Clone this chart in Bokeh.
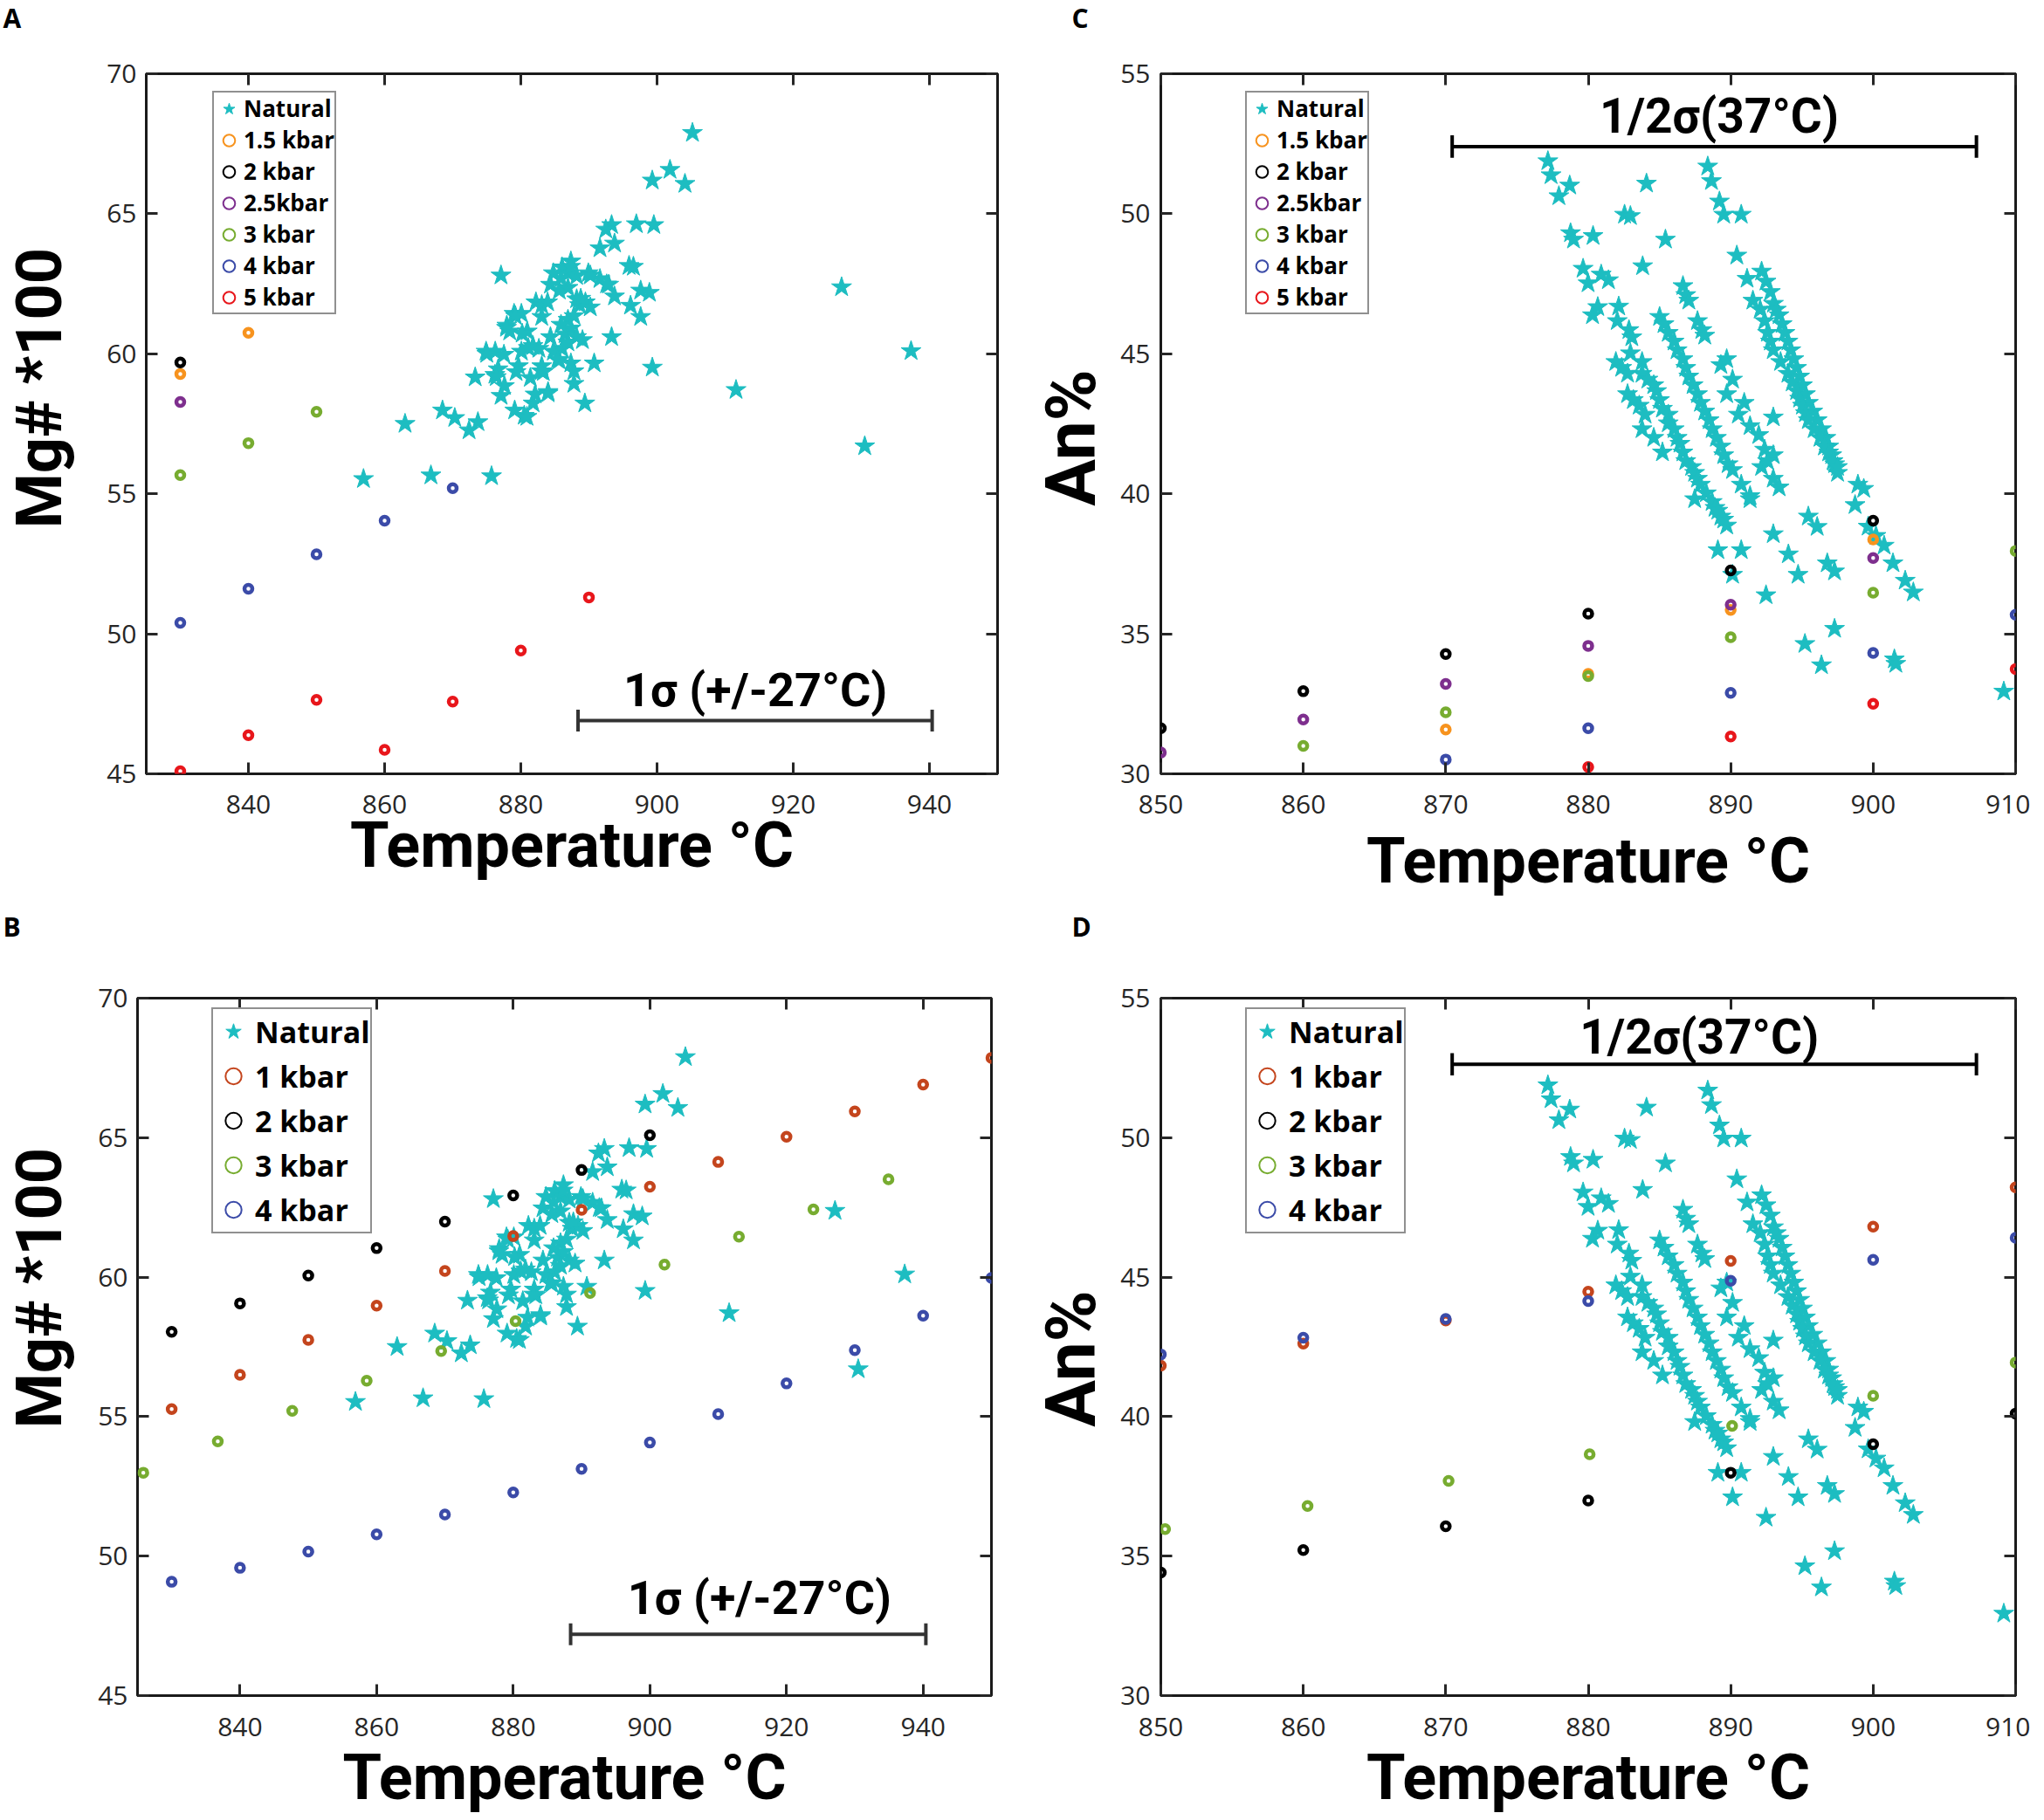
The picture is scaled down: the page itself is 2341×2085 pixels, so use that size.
import math
from bokeh.plotting import figure
from bokeh.models import Range1d, FixedTicker, LinearAxis, Legend, LegendItem, Label, Spacer
from bokeh.layouts import column, row
from bokeh.embed import file_html
from bokeh.resources import INLINE
from bokeh.core.properties import value

# ---------------- data: Mg# panels (A, B) ----------------
nat_mg_T = [856.9, 863.0, 866.8, 875.7, 868.5, 870.3, 872.4, 873.7, 889.4, 887.8, 884.0, 881.8, 880.5, 880.9,
            879.1, 877.1, 877.6, 873.3, 874.9, 876.2, 881.4, 883.3, 879.3,
            877.09, 893.33, 892.47, 896.96, 899.53, 891.62, 893.76, 895.89, 896.53, 897.60, 898.88, 896.11,
            897.60, 893.33, 899.31, 890.77, 887.35, 886.06, 886.92, 884.78, 888.20, 889.91, 884.35, 885.64,
            886.92, 891.62, 892.90, 893.76, 882.22, 883.07, 883.93, 888.63, 889.48, 888.20, 883.07, 879.01,
            880.08, 877.94, 878.37, 880.94, 886.92, 887.35, 886.49, 888.20, 889.05, 884.35, 881.79, 882.65,
            884.78, 886.06, 885.64, 887.35, 880.08, 876.24, 877.52, 879.65, 883.07, 876.66,
            877.9, 880.2, 879.2, 886.9, 885.4, 887.8, 883.0, 881.1, 885.9, 887.8, 888.8, 885.9, 887.3, 890.2,
            892.6, 890.2, 876.4, 875.0, 882.1, 884.0,
            905.2, 901.9, 899.3, 904.1, 911.6, 927.1, 937.3, 930.5]
nat_mg = [55.53, 57.50, 55.66, 55.63, 57.98, 57.71, 57.27, 57.56, 58.23, 58.93, 58.64, 58.23, 57.79, 57.75,
          57.98, 58.50, 58.85, 59.16, 60.08, 59.25, 59.14, 59.35, 59.35,
          62.80, 64.60, 64.44, 64.63, 64.60, 63.77, 63.94, 63.14, 63.11, 62.26, 62.18, 61.72,
          61.32, 60.60, 59.51, 59.66, 63.30, 63.09, 62.88, 62.88, 62.78, 62.88, 62.47, 62.26,
          62.36, 62.67, 62.47, 62.05, 61.84, 61.74, 61.84, 61.74, 61.84, 61.95, 61.32, 61.43,
          61.43, 61.01, 60.80, 60.80, 61.22, 60.91, 60.70, 60.60, 60.49, 60.60, 60.28, 60.18,
          60.08, 60.18, 59.77, 59.66, 60.08, 60.08, 59.97, 59.56, 59.56, 59.45,
          60.93, 60.72, 61.35, 60.41, 59.79, 59.38, 59.38, 60.21, 61.04, 61.35, 61.97, 62.69, 63.11, 62.80,
          62.48, 61.66, 59.17, 60.00, 58.55, 58.59,
          67.89, 66.57, 66.19, 66.07, 58.71, 62.38, 60.10, 56.70]

# panel A experiments
a15_T = [830, 840]
a15 = [59.28, 60.75]
a2_T = [830]
a2 = [59.69]
a25_T = [830]
a25 = [58.28]
a3_T = [830, 840, 850]
a3 = [55.67, 56.81, 57.93]
a4_T = [830, 840, 850, 860, 870]
a4 = [50.39, 51.61, 52.84, 54.04, 55.20]
a5_T = [830, 840, 850, 860, 870, 880, 890]
a5 = [45.09, 46.38, 47.64, 45.86, 47.58, 49.40, 51.30]

# panel B experiments
b1_T = [830, 840, 850, 860, 870, 880, 890, 900, 910, 920, 930, 940, 950]
b1 = [55.27, 56.50, 57.75, 58.98, 60.22, 61.47, 62.41, 63.24, 64.13, 65.03, 65.94, 66.90, 67.86]
b2_T = [830, 840, 850, 860, 870, 880, 890, 900]
b2 = [58.04, 59.06, 60.06, 61.04, 61.99, 62.93, 63.84, 65.09]
b3_T = [825.85, 836.75, 847.65, 858.55, 869.45, 880.34, 891.24, 902.14, 913.04, 923.94, 934.93]
b3 = [52.99, 54.11, 55.21, 56.29, 57.35, 58.42, 59.43, 60.45, 61.45, 62.43, 63.51]
b4_T = [830, 840, 850, 860, 870, 880, 890, 900, 910, 920, 930, 940, 950]
b4 = [49.08, 49.58, 50.16, 50.78, 51.49, 52.28, 53.13, 54.07, 55.09, 56.19, 57.38, 58.62, 59.97]

# ---------------- data: An% panels (C, D) ----------------
nat_an_T = [877.17, 877.39, 878.70, 877.94, 884.09, 882.55, 882.96, 888.39, 888.65, 889.21, 889.51, 890.74,
            878.76, 878.97, 880.34, 885.42, 883.82, 890.43, 879.64, 879.99, 880.91, 881.42, 880.30, 880.67,
            882.14, 882.04, 882.86, 883.06, 882.96, 883.78,
            881.94, 882.35, 882.76, 883.78, 884.19, 884.60, 884.80, 882.76, 883.17, 883.58, 885.01, 885.21,
            885.62, 883.99, 883.78, 885.62, 886.03, 884.60, 886.24, 886.44, 885.21, 886.65, 886.85, 887.26,
            887.47, 887.67, 887.88, 887.47, 888.29, 888.70, 888.90, 889.31, 889.72, 889.51, 889.10,
            885.01, 885.32, 885.62, 886.03, 886.24, 886.65, 886.85, 887.06, 887.36, 887.67, 887.88, 888.18,
            888.49, 888.70, 889.00, 889.31, 889.51, 889.82, 890.13, 890.74, 891.36,
            886.65, 886.85, 887.06, 887.67, 887.98, 888.18,
            889.31, 889.72, 890.13, 889.72, 890.95, 890.54, 891.36, 891.97, 892.99, 892.38, 892.99, 892.17,
            892.58, 892.99, 893.40, 891.36,
            892.17, 891.15, 892.48, 892.79, 893.00, 893.20, 893.40, 893.61, 893.81, 894.02, 894.22, 894.43,
            894.63, 894.84, 895.04, 895.25, 895.45, 895.76, 896.07, 896.37, 896.68, 896.88, 897.09, 897.30,
            897.50,
            891.56, 892.07, 892.38, 892.58, 892.79, 892.99, 893.50, 894.02, 894.32, 894.63, 894.84, 895.04,
            895.25, 895.45, 895.86, 896.27, 896.58, 896.88, 897.19, 897.50,
            895.45, 896.07, 892.99, 898.73, 898.93, 899.34, 899.65, 900.20, 900.77, 901.39, 902.25, 902.82,
            894.05, 894.73, 896.78, 897.29, 892.48, 897.29, 895.21, 896.37, 901.49, 901.59, 909.17,
            889.10, 890.74, 890.13]
nat_an = [51.88, 51.38, 51.01, 50.63, 51.08, 49.97, 49.92, 51.69, 51.17, 50.44, 49.97, 49.97,
          49.31, 49.08, 49.21, 49.08, 48.13, 48.51, 48.04, 47.52, 47.83, 47.63, 46.38, 46.67,
          46.69, 46.17, 45.85, 45.59, 45.02, 44.71,
          44.71, 44.50, 44.29, 44.29, 44.08, 43.88, 43.67, 43.56, 43.35, 43.15, 43.35, 43.04,
          42.83, 42.83, 42.31, 42.52, 42.31, 42.00, 42.00, 41.79, 41.48, 41.48, 41.17, 40.96,
          40.75, 40.54, 40.33, 39.81, 40.02, 39.71, 39.50, 39.19, 38.87, 39.08, 39.40,
          46.32, 46.06, 45.75, 45.44, 45.13, 44.81, 44.50, 44.19, 43.88, 43.56, 43.25, 42.94,
          42.63, 42.31, 42.00, 41.69, 41.38, 41.06, 40.85, 40.33, 39.92,
          47.42, 47.10, 46.90, 46.17, 45.85, 45.65,
          44.60, 44.81, 44.08, 43.56, 43.25, 42.83, 42.42, 42.10, 42.73, 41.58, 41.38, 40.96,
          41.17, 40.54, 40.23, 39.81,
          47.94, 47.68, 47.58, 47.21, 46.79, 46.58, 46.38, 46.06, 45.75, 45.44, 45.13, 44.81,
          44.50, 44.19, 43.88, 43.56, 43.25, 42.94, 42.63, 42.31, 42.00, 41.69, 41.38, 41.06,
          40.75,
          46.90, 46.58, 46.17, 45.75, 45.44, 45.13, 44.71, 44.29, 43.98, 43.67, 43.40, 43.15,
          42.88, 42.63, 42.31, 42.00, 41.69, 41.48, 41.17, 40.96,
          39.19, 38.82, 38.56, 39.60, 40.33, 40.18, 38.83, 38.50, 38.15, 37.52, 36.90, 36.48,
          37.84, 37.11, 37.52, 37.23, 36.38, 35.18, 34.64, 33.88, 34.09, 33.93, 32.94,
          37.99, 37.99, 37.11]

# panel C experiments
c15_T = [870, 880, 890, 900]
c15 = [31.58, 33.57, 35.85, 38.37]
c2_T = [850, 860, 870, 880, 890, 900]
c2 = [31.63, 32.95, 34.28, 35.72, 37.26, 39.04]
c25_T = [850, 860, 870, 880, 890, 900]
c25 = [30.76, 31.94, 33.21, 34.57, 36.04, 37.71]
c3_T = [860, 870, 880, 890, 900, 910]
c3 = [31.00, 32.20, 33.49, 34.88, 36.47, 37.96]
c4_T = [870, 880, 890, 900, 910]
c4 = [30.51, 31.63, 32.89, 34.32, 35.68]
c5_T = [880, 890, 900, 910]
c5 = [30.24, 31.33, 32.50, 33.74]

# panel D experiments
d1_T = [850, 860, 870, 880, 890, 900, 910]
d1 = [41.83, 42.62, 43.45, 44.48, 45.58, 46.81, 48.22]
d2_T = [850, 860, 870, 880, 890, 900, 910]
d2 = [34.41, 35.22, 36.07, 36.99, 37.99, 39.01, 40.11]
d3_T = [850.3, 860.3, 870.2, 880.1, 890.1, 900, 910]
d3 = [35.97, 36.80, 37.70, 38.65, 39.67, 40.75, 41.94]
d4_T = [850, 860, 870, 880, 890, 900, 910]
d4 = [42.23, 42.83, 43.50, 44.14, 44.87, 45.62, 46.41]

# sigma bars (annotations)
sig_mg_bar = [888.4, 940.4]
sig_an_bar = [870.45, 907.25]

# ticks
mg_xticks = [840, 860, 880, 900, 920, 940]
mg_yticks = [45, 50, 55, 60, 65, 70]
an_xticks = [850, 860, 870, 880, 890, 900, 910]
an_yticks = [30, 35, 40, 45, 50, 55]

TEAL = "#1dbdc1"
C_15 = "#f7931e"
C_2 = "#000000"
C_25 = "#7e2f8e"
C_3 = "#77ac30"
C_4 = "#3b4ba8"
C_5 = "#e8161b"
C_1 = "#c4451d"
AX = "#262626"
NAN = float("nan")


def strip(w, h):
    """An empty, axis-less canvas whose data units are pixels (used for titles outside the plots)."""
    s = figure(width=w, height=h, x_range=Range1d(0, w), y_range=Range1d(0, h), x_axis_type=None,
               y_axis_type=None, output_backend="svg", toolbar_location=None, title_location=None,
               min_border_left=0, min_border_right=0, min_border_top=0, min_border_bottom=0)
    s.outline_line_color = None
    s.background_fill_color = "white"
    s.border_fill_color = "white"
    s.grid.visible = False
    return s


def letter(s, txt, x, y):
    s.add_layout(Label(x=x, y=y, text=txt, text_font="Open Sans", text_font_style="bold",
                       text_font_size="30px", text_align="left", text_baseline="alphabetic",
                       text_color="black"))


def ytitle(s, txt, x, y, size):
    s.add_layout(Label(x=x, y=y, text=txt, angle=math.pi / 2, text_font="Roboto", text_font_style="bold",
                       text_font_size=size, text_align="center", text_baseline="middle",
                       text_color="black"))


class Panel:
    def __init__(self, xr, yr, xt, yt, w, h, ml, mr, mt, mb, tick_sx, tick_sy, xl_standoff):
        p = figure(width=w, height=h, x_range=Range1d(*xr), y_range=Range1d(*yr),
                   output_backend="svg", toolbar_location=None,
                   min_border_left=ml, min_border_right=mr, min_border_top=mt, min_border_bottom=mb)
        self.fh = h - mt - mb
        p.xgrid.visible = False
        p.ygrid.visible = False
        p.outline_line_color = "#1a1a1a"
        p.outline_line_width = 3
        p.background_fill_color = "white"
        p.border_fill_color = "white"
        p.xaxis.ticker = FixedTicker(ticks=xt)
        p.yaxis.ticker = FixedTicker(ticks=yt)
        for ax in (p.xaxis[0], p.yaxis[0]):
            ax.axis_line_color = None
            ax.major_tick_in = 13
            ax.major_tick_out = 0
            ax.major_tick_line_width = 3
            ax.major_tick_line_color = AX
            ax.minor_tick_line_color = None
            ax.major_label_text_font = "Open Sans"
            ax.major_label_text_font_size = "30px"
            ax.major_label_text_color = AX
        p.xaxis.major_label_standoff = tick_sx
        p.yaxis.major_label_standoff = tick_sy
        p.xaxis.axis_label = "Temperature °C"
        p.xaxis.axis_label_text_font = "Roboto"
        p.xaxis.axis_label_text_font_style = "bold"
        p.xaxis.axis_label_text_font_size = "72px"
        p.xaxis.axis_label_text_color = "black"
        p.xaxis.axis_label_standoff = xl_standoff
        for side, tk in (("right", yt), ("above", xt)):
            ax = LinearAxis(ticker=FixedTicker(ticks=tk), major_label_text_font_size="2px",
                            major_label_text_color=None,
                            major_tick_in=13, major_tick_out=0, major_tick_line_width=3,
                            major_tick_line_color=AX, minor_tick_line_color=None, axis_line_color=None,
                            major_label_standoff=0)
            p.add_layout(ax, side)
        self.p = p

    def natural(self, xs, ys):
        return self.p.scatter(xs, ys, marker="star", size=24, fill_color=TEAL, line_color=TEAL, line_width=1)

    def exp(self, xs, ys, color):
        return self.p.scatter(xs, ys, marker="circle", size=9, fill_alpha=0, line_color=color, line_width=4.5)

    def legend(self, entries, dx, top_off, font_size, gw, gh, standoff):
        items = []
        for label, color, is_star in entries:
            if is_star:
                r = self.p.scatter([NAN], [NAN], marker="star", size=10, fill_color=TEAL, line_color=TEAL)
            else:
                r = self.p.scatter([NAN], [NAN], marker="circle", size=10, fill_alpha=0, line_color=color,
                                   line_width=2)
            items.append(LegendItem(label=label, renderers=[r]))
        lh = gh * len(entries)
        lg = Legend(items=items, location=(dx, self.fh - top_off - lh))
        lg.label_text_font = "Open Sans"
        lg.label_text_font_style = "bold"
        lg.label_text_font_size = font_size
        lg.label_text_color = "black"
        lg.border_line_color = "#222222"
        lg.border_line_width = 2
        lg.background_fill_color = "white"
        lg.background_fill_alpha = 1
        lg.padding = 0
        lg.margin = 0
        lg.spacing = 0
        lg.glyph_width = gw
        lg.glyph_height = gh
        lg.label_height = gh
        lg.label_standoff = standoff
        self.p.add_layout(lg)

    def sigma(self, bar, by, cap, text, tx, ty, color, fsize):
        p = self.p
        p.segment(x0=[bar[0]], y0=[by], x1=[bar[1]], y1=[by], line_color=color, line_width=4)
        p.segment(x0=bar, y0=[by - cap, by - cap], x1=bar, y1=[by + cap, by + cap], line_color=color,
                  line_width=4)
        p.text(x=[tx], y=[ty], text=[text], text_font=value("Roboto"), text_font_style="bold",
               text_font_size=fsize, text_align="center", text_baseline="alphabetic", text_color="black")


legend_ac = [("Natural", TEAL, True), ("1.5 kbar", C_15, False), ("2 kbar", C_2, False),
             ("2.5kbar", C_25, False), ("3 kbar", C_3, False), ("4 kbar", C_4, False), ("5 kbar", C_5, False)]
legend_bd = [("Natural", TEAL, True), ("1 kbar", C_1, False), ("2 kbar", C_2, False),
             ("3 kbar", C_3, False), ("4 kbar", C_4, False)]

TOP_H = 40      # gap above plots A / C (letters live in the side strips)
ROW1_H = 992    # plots A / C
MID_H = 45      # gap above plots B / D
ROW2_H = 1004   # plots B / D
R1 = TOP_H + ROW1_H
R2 = MID_H + ROW2_H

# ---------- Panel A ----------
A = Panel((825, 950), (45, 70), mg_xticks, mg_yticks, 1062, ROW1_H, 67, 20, 44, 146, 24, 11, -9)
A.natural(nat_mg_T, nat_mg)
A.exp(a15_T, a15, C_15)
A.exp(a2_T, a2, C_2)
A.exp(a25_T, a25, C_25)
A.exp(a3_T, a3, C_3)
A.exp(a4_T, a4, C_4)
A.exp(a5_T, a5, C_5)
A.sigma(sig_mg_bar, 46.9, 0.39, "1σ (+/-27°C)", 914.4, 48.0, "#333333", "54px")
A.legend(legend_ac, 76, 31, "26px", 34, 35, 0)

# ---------- Panel C ----------
C = Panel((850, 910), (30, 55), an_xticks, an_yticks, 1051, ROW1_H, 55, 17, 44, 146, 24, 12, 9)
C.natural(nat_an_T, nat_an)
C.exp(c15_T, c15, C_15)
C.exp(c2_T, c2, C_2)
C.exp(c25_T, c25, C_25)
C.exp(c3_T, c3, C_3)
C.exp(c4_T, c4, C_4)
C.exp(c5_T, c5, C_5)
C.sigma(sig_an_bar, 52.4, 0.4, "1/2σ(37°C)", 889.2, 53.5, "black", "55px")
C.legend(legend_ac, 97, 31, "26px", 34, 35, 0)

# ---------- Panel B ----------
B = Panel((825, 950), (45, 70), mg_xticks, mg_yticks, 1062, ROW2_H, 57, 27, 66, 138, 25, 11, 2)
B.natural(nat_mg_T, nat_mg)
B.exp(b1_T, b1, C_1)
B.exp(b2_T, b2, C_2)
B.exp(b3_T, b3, C_3)
B.exp(b4_T, b4, C_4)
B.sigma(sig_mg_bar, 47.2, 0.39, "1σ (+/-27°C)", 916.0, 48.5, "#333333", "54px")
B.legend(legend_bd, 85, 16, "34px", 46, 51, 2)

# ---------- Panel D ----------
D = Panel((850, 910), (30, 55), an_xticks, an_yticks, 1051, ROW2_H, 55, 17, 66, 138, 25, 12, 2)
D.natural(nat_an_T, nat_an)
D.exp(d1_T, d1, C_1)
D.exp(d2_T, d2, C_2)
D.exp(d3_T, d3, C_3)
D.exp(d4_T, d4, C_4)
D.sigma(sig_an_bar, 52.63, 0.4, "1/2σ(37°C)", 887.8, 53.6, "black", "55px")
D.legend(legend_bd, 97, 16, "34px", 46, 51, 2)

# ---------- side strips: panel letters and y titles ----------
yA = strip(100, R1)
letter(yA, "A", 3, R1 - 20)
ytitle(yA, "Mg# *100", 45, R1 - 444, "72px")
yC = strip(112, R1)
letter(yC, "C", 65, R1 - 20)
ytitle(yC, "An%", 64, R1 - 501, "80px")
yB = strip(100, R2)
letter(yB, "B", 3, R2 - 29)
ytitle(yB, "Mg# *100", 45, R2 - 443, "72px")
yD = strip(112, R2)
letter(yD, "D", 65, R2 - 29)
ytitle(yD, "An%", 64, R2 - 524, "80px")

layout = column(
    row(yA, column(Spacer(width=1062, height=TOP_H), A.p), yC, column(Spacer(width=1051, height=TOP_H), C.p)),
    row(yB, column(Spacer(width=1062, height=MID_H), B.p), yD, column(Spacer(width=1051, height=MID_H), D.p)),
)
open("out.html", "w").write(file_html(layout, INLINE))
